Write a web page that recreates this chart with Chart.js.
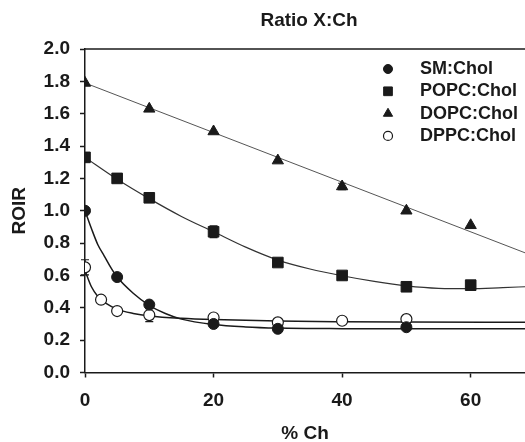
<!DOCTYPE html>
<html>
<head>
<meta charset="utf-8">
<title>Ratio X:Ch</title>
<script src="https://cdn.jsdelivr.net/npm/chart.js"></script>
<style>
  html, body { margin:0; padding:0; background:#fff; }
  #wrap { width:525px; height:442px; }
</style>
</head>
<body>
<div id="wrap"><canvas id="chart" width="525" height="442"></canvas></div>
<script>
// ---------------- Text & ticks ----------------
const chartTitle = "Ratio X:Ch";
const xTitle = "% Ch";
const yTitle = "ROIR";
const xTicks = [0, 20, 40, 60];
const yTicks = [0.0, 0.2, 0.4, 0.6, 0.8, 1.0, 1.2, 1.4, 1.6, 1.8, 2.0];
const xMax = 68.45;

// ---------------- Measured points ----------------
const smX = [0, 5, 10, 20, 30, 50];
const smY = [1.00, 0.59, 0.42, 0.30, 0.27, 0.28];
const smErr = [0, 0.02, 0, 0, 0, 0];

const popcX = [0, 5, 10, 20, 30, 40, 50, 60];
const popcY = [1.33, 1.20, 1.08, 0.87, 0.68, 0.60, 0.53, 0.54];
const popcErr = [0, 0, 0, 0.036, 0, 0, 0, 0];

const dopcX = [0, 10, 20, 30, 40, 50, 60];
const dopcY = [1.79, 1.63, 1.49, 1.31, 1.15, 1.00, 0.91];
const dopcErr = [0, 0, 0, 0, 0.02, 0, 0];

const dppcX = [0, 2.5, 5, 10, 20, 30, 40, 50];
const dppcY = [0.65, 0.45, 0.38, 0.355, 0.34, 0.31, 0.32, 0.33];
const dppcErr = [0.047, 0, 0, 0.04, 0, 0, 0, 0];

// ---------------- Fitted curves ----------------
const smFitX = [0, 1, 2, 3, 4, 5, 7.5, 10, 12.5, 15, 20, 25, 30, 40, 50, 68.45];
const smFitY = [1.0, 0.89, 0.79, 0.72, 0.65, 0.59, 0.49, 0.415, 0.365, 0.33, 0.297, 0.282, 0.275, 0.271, 0.27, 0.27];

const popcFitX = [0, 5, 10, 15, 20, 25, 30, 35, 40, 45, 50, 55, 60, 65, 68.45];
const popcFitY = [1.33, 1.195, 1.075, 0.965, 0.87, 0.775, 0.695, 0.64, 0.598, 0.563, 0.535, 0.52, 0.518, 0.525, 0.53];

const dopcFitX = [0, 68.45];
const dopcFitY = [1.79, 0.74];

const dppcFitX = [0, 1, 2, 3, 4, 5, 7.5, 10, 15, 20, 30, 40, 50, 68.45];
const dppcFitY = [0.63, 0.53, 0.47, 0.435, 0.41, 0.39, 0.365, 0.35, 0.335, 0.327, 0.318, 0.314, 0.312, 0.31];

const seriesLabels = ["SM:Chol", "POPC:Chol", "DOPC:Chol", "DPPC:Chol"];

// ---------------- Helpers ----------------
const INK = "#1a1a1a";
const FONT = "'Liberation Sans', Arial, sans-serif";
const zip = (xs, ys) => xs.map((x, i) => ({ x: x, y: ys[i] }));

const markers = [
  { style: "circle",   radius: 5.5, fill: INK,    border: INK, bw: 1 },
  { style: "rect",     radius: 7.5, fill: INK,    border: INK, bw: 1 },
  { style: "triangle", radius: 6.5, fill: INK,    border: INK, bw: 1 },
  { style: "circle",   radius: 5.5, fill: "#fff", border: INK, bw: 1.2 }
];

function pointSet(label, xs, ys, m) {
  return {
    label: label, data: zip(xs, ys), showLine: false, order: 0,
    pointStyle: m.style, pointRadius: m.radius,
    pointBackgroundColor: m.fill, pointBorderColor: m.border, pointBorderWidth: m.bw
  };
}
function fitSet(xs, ys, color, width) {
  return {
    label: "fit", data: zip(xs, ys), showLine: true, order: 1,
    borderColor: color, borderWidth: width, pointRadius: 0,
    cubicInterpolationMode: "monotone", fill: false
  };
}
// no automatic padding, the plot runs to the right edge
function noPad(s) {
  s.paddingLeft = 0; s.paddingRight = 0; s.paddingTop = 0; s.paddingBottom = 0;
}

// ---------------- Plugin: title, top border, error bars, legend ----------------
const extras = {
  id: "extras",
  beforeDatasetsDraw(chart) {
    const { ctx, scales: { x, y } } = chart;
    const bars = [[smX, smY, smErr], [popcX, popcY, popcErr], [dopcX, dopcY, dopcErr], [dppcX, dppcY, dppcErr]];
    ctx.save();
    ctx.strokeStyle = INK;
    ctx.lineWidth = 1.2;
    bars.forEach(([xs, ys, es]) => {
      xs.forEach((v, i) => {
        if (!es[i]) return;
        const px = x.getPixelForValue(v);
        const top = y.getPixelForValue(ys[i] + es[i]);
        const bot = y.getPixelForValue(ys[i] - es[i]);
        ctx.beginPath();
        ctx.moveTo(px, top); ctx.lineTo(px, bot);
        ctx.moveTo(px - 4, top); ctx.lineTo(px + 4, top);
        ctx.moveTo(px - 4, bot); ctx.lineTo(px + 4, bot);
        ctx.stroke();
      });
    });
    ctx.restore();
  },
  afterDraw(chart) {
    const { ctx, chartArea: a } = chart;
    ctx.save();
    // top frame line
    ctx.strokeStyle = INK;
    ctx.lineWidth = 1.5;
    ctx.beginPath();
    ctx.moveTo(a.left, a.top); ctx.lineTo(a.right, a.top);
    ctx.stroke();
    // title
    ctx.fillStyle = INK;
    ctx.font = "bold 19px " + FONT;
    ctx.textAlign = "center";
    ctx.textBaseline = "middle";
    ctx.fillText(chartTitle, (a.left + a.right) / 2 + 4, 21);
    // legend
    ctx.font = "bold 18px " + FONT;
    ctx.textAlign = "left";
    seriesLabels.forEach((lab, i) => {
      const ly = 69 + i * 22.3;
      const m = markers[i];
      ctx.fillStyle = m.fill;
      ctx.strokeStyle = m.border;
      ctx.lineWidth = m.bw;
      Chart.helpers.drawPoint(ctx, { pointStyle: m.style, radius: m.radius * 0.82, borderWidth: m.bw, rotation: 0 }, 388, ly);
      ctx.fillStyle = INK;
      ctx.fillText(lab, 420, ly);
    });
    ctx.restore();
  }
};

// ---------------- Chart ----------------
new Chart(document.getElementById("chart"), {
  type: "scatter",
  data: {
    datasets: [
      pointSet(seriesLabels[0], smX, smY, markers[0]),
      pointSet(seriesLabels[1], popcX, popcY, markers[1]),
      pointSet(seriesLabels[2], dopcX, dopcY, markers[2]),
      pointSet(seriesLabels[3], dppcX, dppcY, markers[3]),
      fitSet(smFitX, smFitY, INK, 1.5),
      fitSet(popcFitX, popcFitY, "#333", 1.2),
      fitSet(dopcFitX, dopcFitY, "#555", 1),
      fitSet(dppcFitX, dppcFitY, INK, 1.5)
    ]
  },
  options: {
    responsive: false,
    animation: false,
    events: [],
    layout: { autoPadding: false, padding: { top: 49, right: 0, bottom: 0, left: 0 } },
    plugins: { legend: { display: false }, title: { display: false }, tooltip: { enabled: false } },
    scales: {
      x: {
        type: "linear", min: 0, max: xMax,
        afterBuildTicks: s => { s.ticks = xTicks.map(v => ({ value: v })); },
        afterFit: s => { s.height = 442 - 372.5; noPad(s); },
        grid: { drawOnChartArea: false, drawTicks: true, tickLength: 5, tickWidth: 1.5, tickColor: INK },
        border: { display: true, color: INK, width: 1.5 },
        ticks: { padding: 12, color: INK, font: { family: FONT, size: 19, weight: "bold" }, callback: v => v },
        title: { display: true, text: xTitle, color: INK, font: { family: FONT, size: 19, weight: "bold", lineHeight: 1 }, padding: { top: 0, bottom: -1 } }
      },
      y: {
        type: "linear", min: 0, max: 2,
        afterBuildTicks: s => { s.ticks = yTicks.map(v => ({ value: v })); },
        afterFit: s => { s.width = 85; noPad(s); },
        grid: { drawOnChartArea: false, drawTicks: true, tickLength: 5, tickWidth: 1.5, tickColor: INK },
        border: { display: true, color: INK, width: 1.5 },
        ticks: { padding: 10, color: INK, font: { family: FONT, size: 19, weight: "bold" }, callback: v => v.toFixed(1) },
        title: { display: true, text: yTitle, color: INK, font: { family: FONT, size: 19, weight: "bold", lineHeight: 1 }, padding: { top: 10, bottom: 0 } }
      }
    }
  },
  plugins: [extras]
});
</script>
</body>
</html>
